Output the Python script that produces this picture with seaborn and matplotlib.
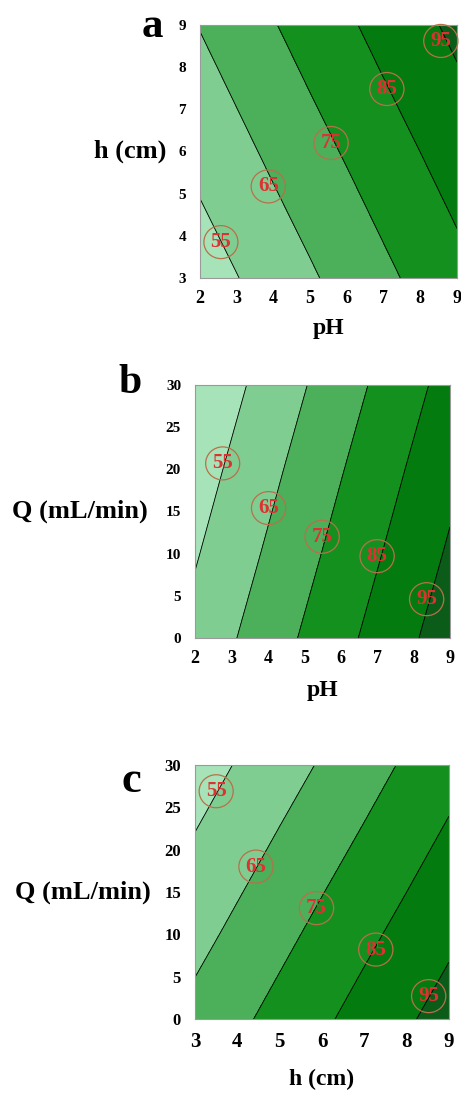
"""Three response-surface contour panels (a, b, c)."""
import matplotlib
matplotlib.use("Agg")
import matplotlib.pyplot as plt
import numpy as np
import seaborn as sns

# ---- data ----
levels = [0, 55, 65, 75, 85, 95, 200]
fill_colors = ["#a6e3b8", "#80cd92", "#4caf5a", "#14901f", "#047b0e", "#0b5c18"]

# panel a: removal (%) vs pH (x) and h (y)
a_ph = [2, 3, 4, 5, 6, 7, 8, 9]
a_h = [3, 5, 7, 9]
a_z = [
    [50.2, 54.7, 59.3, 63.8, 68.4, 72.9, 77.5, 82.0],
    [55.3, 59.8, 64.4, 68.9, 73.4, 78.0, 82.5, 87.1],
    [60.3, 64.9, 69.4, 74.0, 78.5, 83.1, 87.6, 92.2],
    [65.4, 70.0, 74.5, 79.1, 83.6, 88.2, 92.7, 97.2],
]
a_lab_x = [2.57, 3.86, 5.57, 7.09, 8.56]
a_lab_y = [3.85, 5.17, 6.2, 7.48, 8.62]

# panel b: vs pH (x) and Q (y)
b_ph = [2, 3, 4, 5, 6, 7, 8, 9]
b_q = [0, 10, 20, 30]
b_z = [
    [58.1, 64.1, 70.1, 76.1, 82.1, 88.1, 94.1, 100.1],
    [54.2, 60.2, 66.2, 72.2, 78.2, 84.2, 90.2, 96.2],
    [50.4, 56.4, 62.4, 68.4, 74.4, 80.4, 86.4, 92.4],
    [46.5, 52.5, 58.5, 64.5, 70.5, 76.5, 82.5, 88.5],
]
b_lab_x = [2.76, 4.02, 5.49, 7.0, 8.36]
b_lab_y = [20.7, 15.4, 12.0, 9.7, 4.6]

# panel c: vs h (x) and Q (y)
c_h = [3, 4, 5, 6, 7, 8, 9]
c_q = [0, 10, 20, 30]
c_z = [
    [67.9, 73.0, 78.2, 83.4, 88.6, 93.8, 98.9],
    [62.0, 67.2, 72.4, 77.6, 82.8, 87.9, 93.1],
    [56.2, 61.4, 66.6, 71.8, 76.9, 82.1, 87.3],
    [50.4, 55.6, 60.8, 65.9, 71.1, 76.3, 81.5],
]
c_lab_x = [3.5, 4.44, 5.87, 7.27, 8.52]
c_lab_y = [26.9, 18.0, 13.1, 8.2, 2.7]

labels = ["55", "65", "75", "85", "95"]

sns.set_theme(style="white")
plt.rcParams["font.family"] = ["Liberation Serif", "DejaVu Serif"]
plt.rcParams["font.weight"] = "bold"
for key in ["text.color", "axes.labelcolor", "xtick.color", "ytick.color"]:
    plt.rcParams[key] = "black"

fig = plt.figure(figsize=(4.61, 10.93), dpi=100)


def panel(rect, xs, ys, z, lab_x, lab_y, xticks, yticks, xlabel, ylabel,
          letter, letter_pos, letter_size, xlabel_y, ylabel_x,
          xtick_size=13, ytick_size=11):
    ax = fig.add_axes(rect)
    X, Y = np.meshgrid(xs, ys)
    Z = np.array(z)
    ax.contourf(X, Y, Z, levels=levels, colors=fill_colors)
    ax.contour(X, Y, Z, levels=levels[1:-1], colors="black", linewidths=0.6)
    for t, x, y in zip(labels, lab_x, lab_y):
        ax.text(x, y, t, color="#dc3232", fontsize=15, fontweight="bold",
                ha="center", va="center",
                bbox=dict(boxstyle="ellipse,pad=0.08", facecolor="none",
                          edgecolor="#b8704a", linewidth=0.9))
    ax.set_xlim(xs[0], xs[-1])
    ax.set_ylim(ys[0], ys[-1])
    ax.set_xticks(xticks)
    ax.set_yticks(yticks)
    ax.tick_params(axis="x", length=0, pad=9, labelsize=xtick_size)
    ax.tick_params(axis="y", length=0, pad=10, labelsize=ytick_size)
    for lbl in ax.get_xticklabels() + ax.get_yticklabels():
        lbl.set_fontweight("bold")
    for sp in ax.spines.values():
        sp.set_color("#9a9a9a")
        sp.set_linewidth(0.8)
    ax.set_xlabel(xlabel, fontsize=17, fontweight="bold")
    ax.xaxis.set_label_coords(0.5, xlabel_y)
    ax.set_ylabel(ylabel, fontsize=19, fontweight="bold", rotation=0,
                  ha="center", va="center")
    ax.yaxis.set_label_coords(ylabel_x, 0.5)
    fig.text(letter_pos[0], letter_pos[1], letter, fontsize=letter_size,
             fontweight="bold", ha="center", va="baseline")
    return ax


panel([0.4338, 0.7457, 0.5575, 0.2315], a_ph, a_h, a_z, a_lab_x, a_lab_y,
      range(2, 10), range(3, 10), "pH", "h (cm)", "a", (0.330, 0.966), 31,
      -0.16, -0.27)
panel([0.423, 0.4163, 0.553, 0.2315], b_ph, b_q, b_z, b_lab_x, b_lab_y,
      range(2, 10), range(0, 31, 5), "pH", "Q (mL/min)", "b", (0.282, 0.6404),
      30, -0.165, -0.45)
panel([0.423, 0.0677, 0.551, 0.2324], c_h, c_q, c_z, c_lab_x, c_lab_y,
      range(3, 10), range(0, 31, 5), "h (cm)", "Q (mL/min)", "c", (0.284, 0.2754),
      32, -0.195, -0.44, xtick_size=15, ytick_size=12)

fig.savefig("out.png", dpi=100)
